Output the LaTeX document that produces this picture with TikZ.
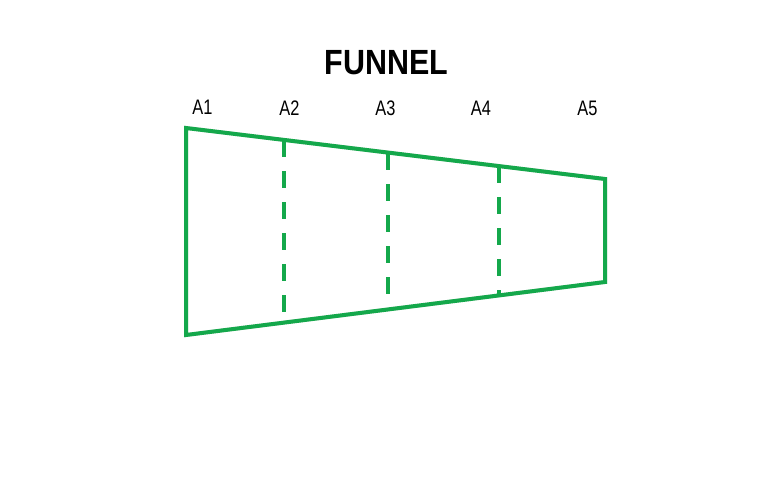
\documentclass[tikz,border=0pt]{standalone}
\usepackage{fontspec}
\setmainfont{Liberation Sans}
\definecolor{fgreen}{RGB}{20,168,75}
\tikzset{
  edge/.style={draw=fgreen, line width=4pt, line join=miter},
  divider/.style={draw=fgreen, line width=4.5pt, dash pattern=on 17pt off 14pt},
  shadowline/.style={draw=black!35, line width=4pt, opacity=0.35},
  lbl/.style={inner sep=0pt, font=\fontsize{21}{21}\selectfont, xscale=0.78},
  ttl/.style={inner sep=0pt, font=\fontsize{35}{35}\selectfont\bfseries, xscale=0.87}
}
\begin{document}
\begin{tikzpicture}[x=1pt, y=-1pt]
\useasboundingbox (0,0) rectangle (778,476);
% corners
\coordinate (tl) at (186,128);
\coordinate (tr) at (605,179);
\coordinate (br) at (605,282);
\coordinate (bl) at (186,335);
% divider end points
\coordinate (t2) at (284,140);
\coordinate (b2) at (284,322);
\coordinate (t3) at (388,153);
\coordinate (b3) at (388,309);
\coordinate (t4) at (499,166);
\coordinate (b4) at (499,295);
% shadows
\begin{scope}[shift={(2,3)}]
\draw[shadowline] (tl) -- (tr) -- (br) -- (bl) -- cycle;
\draw[shadowline, dash pattern=on 17pt off 14pt] (t2) -- (b2);
\draw[shadowline, dash pattern=on 17pt off 14pt] (t3) -- (b3);
\draw[shadowline, dash pattern=on 17pt off 14pt] (t4) -- (b4);
\end{scope}
% funnel
\draw[edge] (tl) -- (tr) -- (br) -- (bl) -- cycle;
\draw[divider] (t2) -- (b2);
\draw[divider] (t3) -- (b3);
\draw[divider] (t4) -- (b4);
% labels
\node[ttl] (title) at (386.5,62.5) {FUNNEL};
\node[lbl] (a1) at (202.5,107.5) {A1};
\node[lbl] (a2) at (289.5,108.5) {A2};
\node[lbl] (a3) at (385.5,108.5) {A3};
\node[lbl] (a4) at (481,108.5) {A4};
\node[lbl] (a5) at (587.5,108.5) {A5};
\end{tikzpicture}
\end{document}
